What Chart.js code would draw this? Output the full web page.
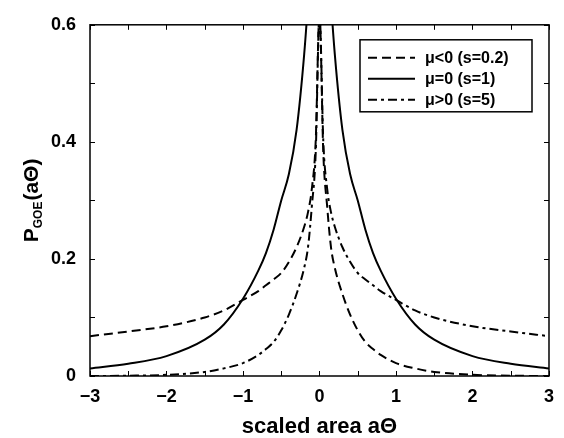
<!DOCTYPE html>
<html>
<head>
<meta charset="utf-8">
<script src="https://cdn.jsdelivr.net/npm/chart.js@4.4.1/dist/chart.umd.min.js"></script>
<style>
  html, body { margin: 0; padding: 0; background: #fff; }
  #wrap { width: 564px; height: 438px; }
</style>
</head>
<body>
<div id="wrap"><canvas id="chart-goe"></canvas></div>
<script>
// scaled area values (x)
const xVals = [-3, -2.5, -2, -1.5, -1.25, -1, -0.8, -0.7, -0.6, -0.5, -0.4, -0.3, -0.2, -0.15, -0.1, -0.05,
               0, 0.05, 0.1, 0.15, 0.2, 0.3, 0.4, 0.5, 0.6, 0.7, 0.8, 1, 1.25, 1.5, 2, 2.5, 3];

// mu<0 (s=0.2) -- dashed
const pNeg = [0.068, 0.076, 0.085, 0.100, 0.112, 0.130, 0.145, 0.155, 0.165, 0.176, 0.195, 0.220, 0.255, 0.280, 0.320, 0.400,
              0.620, 0.380, 0.290, 0.220, 0.185, 0.140, 0.105, 0.078, 0.058, 0.046, 0.036, 0.022, 0.013, 0.007, 0.002, 0.0005, 0.0];

// mu=0 (s=1) -- solid
const pZero = [0.013, 0.021, 0.034, 0.062, 0.088, 0.132, 0.180, 0.210, 0.250, 0.300, 0.345, 0.420, 0.550, 0.640, 0.750, 0.900,
               1.000, 0.900, 0.750, 0.640, 0.550, 0.420, 0.345, 0.300, 0.250, 0.210, 0.180, 0.132, 0.088, 0.062, 0.034, 0.021, 0.013];

// mu>0 (s=5) -- dash-dot
const pPos = [0.0, 0.0005, 0.002, 0.007, 0.013, 0.022, 0.036, 0.046, 0.058, 0.078, 0.105, 0.140, 0.185, 0.220, 0.290, 0.380,
              0.620, 0.400, 0.320, 0.280, 0.255, 0.220, 0.195, 0.176, 0.165, 0.155, 0.145, 0.130, 0.112, 0.100, 0.085, 0.076, 0.068];

const seriesLabels = ['\u03bc<0 (s=0.2)', '\u03bc=0 (s=1)', '\u03bc>0 (s=5)'];
const xTickLabels = {'-3': '\u22123', '-2': '\u22122', '-1': '\u22121', '0': '0', '1': '1', '2': '2', '3': '3'};
const yTickLabels = {'0': '0', '2': '0.2', '4': '0.4', '6': '0.6'};

const FONT = "'Liberation Sans', Arial, Helvetica, sans-serif";

function toPoints(ys) {
    return xVals.map((x, i) => ({x: x, y: ys[i]}));
}

function makeSet(label, ys, dash) {
    return {
        label: label,
        data: toPoints(ys),
        borderColor: '#000',
        backgroundColor: '#000',
        borderWidth: 2,
        borderDash: dash,
        pointRadius: 0,
        fill: false,
        cubicInterpolationMode: 'monotone'
    };
}

// box, inward ticks, legend and axis titles
const frame = {
    id: 'frame',
    afterDraw(chart) {
        const ctx = chart.ctx;
        const a = chart.chartArea;
        const xs = chart.scales.x, ys = chart.scales.y;
        ctx.save();
        ctx.strokeStyle = '#000';
        ctx.lineWidth = 1.5;
        ctx.setLineDash([]);
        ctx.strokeRect(a.left, a.top, a.right - a.left, a.bottom - a.top);

        ctx.lineWidth = 1;
        ctx.beginPath();
        xs.ticks.forEach(t => {
            const px = Math.round(xs.getPixelForValue(t.value)) + 0.5;
            ctx.moveTo(px, a.bottom); ctx.lineTo(px, a.bottom - 5);
            ctx.moveTo(px, a.top); ctx.lineTo(px, a.top + 5);
        });
        ys.ticks.forEach(t => {
            const py = Math.round(ys.getPixelForValue(t.value)) + 0.5;
            ctx.moveTo(a.left, py); ctx.lineTo(a.left + 5, py);
            ctx.moveTo(a.right, py); ctx.lineTo(a.right - 5, py);
        });
        ctx.stroke();

        // legend box
        const bx = a.left + 270, by = a.top + 15, bw = 172, bh = 72;
        ctx.fillStyle = '#fff';
        ctx.fillRect(bx, by, bw, bh);
        ctx.lineWidth = 1.5;
        ctx.strokeRect(bx, by, bw, bh);
        ctx.font = 'bold 16px ' + FONT;
        ctx.textBaseline = 'middle';
        ctx.textAlign = 'left';
        chart.data.datasets.forEach((ds, i) => {
            const ly = by + 18 + i * 21;
            ctx.lineWidth = 2;
            ctx.setLineDash(ds.borderDash);
            ctx.beginPath();
            ctx.moveTo(bx + 8, ly); ctx.lineTo(bx + 55, ly);
            ctx.stroke();
            ctx.setLineDash([]);
            ctx.fillStyle = '#000';
            ctx.fillText(ds.label, bx + 65, ly + 1);
        });

        // y title with subscript
        ctx.translate(31, (a.top + a.bottom) / 2);
        ctx.rotate(-Math.PI / 2);
        ctx.textBaseline = 'alphabetic';
        const big = 'bold 21px ' + FONT, small = 'bold 12px ' + FONT;
        ctx.font = big; const wP = ctx.measureText('P').width; const wR = ctx.measureText('(a\u0398)').width;
        ctx.font = small; const wS = ctx.measureText('GOE').width;
        let tx = -(wP + wS + wR + 1) / 2;
        ctx.font = big; ctx.fillText('P', tx, 7); tx += wP;
        ctx.font = small; ctx.fillText('GOE', tx, 11); tx += wS + 1;
        ctx.font = big; ctx.fillText('(a\u0398)', tx, 7);
        ctx.restore();

        // x title
        ctx.save();
        ctx.font = 'bold 22px ' + FONT;
        ctx.fillStyle = '#000';
        ctx.textAlign = 'center';
        ctx.textBaseline = 'middle';
        ctx.fillText('scaled area a\u0398', (a.left + a.right) / 2, 427);
        ctx.restore();
    }
};

const chart_goe = new Chart(document.getElementById('chart-goe').getContext('2d'), {
    type: 'line',
    data: {
        datasets: [
            makeSet(seriesLabels[0], pNeg, [9, 5]),
            makeSet(seriesLabels[1], pZero, []),
            makeSet(seriesLabels[2], pPos, [9, 4, 3, 4])
        ]
    },
    options: {
        responsive: true,
        maintainAspectRatio: false,
        animation: false,
        layout: { padding: { top: 16, right: 9, left: 0, bottom: 0 } },
        plugins: { legend: { display: false }, tooltip: { enabled: false } },
        scales: {
            x: {
                type: 'linear',
                min: -3, max: 3,
                grid: { display: false, drawTicks: false },
                border: { display: false },
                afterFit: s => { s.height = 62; },
                ticks: {
                    stepSize: 0.5,
                    padding: 10,
                    maxRotation: 0,
                    autoSkip: false,
                    color: '#000',
                    font: { family: FONT, size: 18, weight: 'bold' },
                    callback: v => xTickLabels[String(v)] || ''
                }
            },
            y: {
                min: 0, max: 0.6,
                grid: { display: false, drawTicks: false },
                border: { display: false },
                afterFit: s => { s.width = 90; },
                ticks: {
                    stepSize: 0.1,
                    padding: 14,
                    autoSkip: false,
                    color: '#000',
                    font: { family: FONT, size: 18, weight: 'bold' },
                    callback: v => yTickLabels[String(Math.round(v * 10))] || ''
                }
            }
        }
    },
    plugins: [frame]
});
</script>
</body>
</html>
